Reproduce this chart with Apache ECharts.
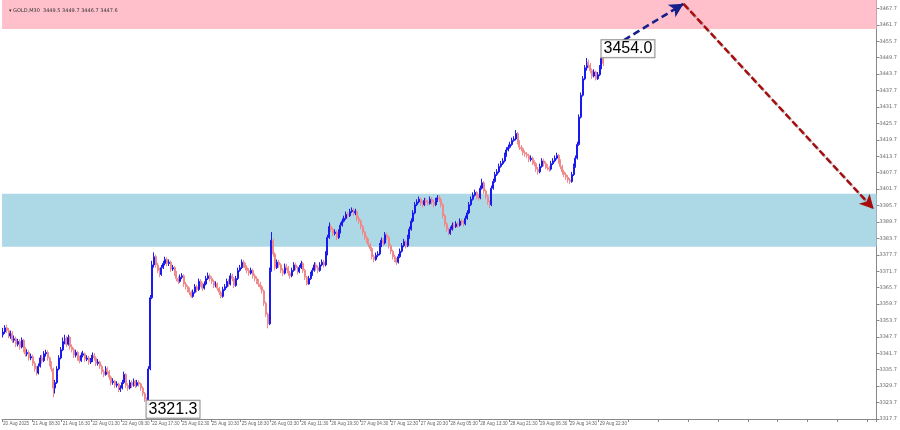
<!DOCTYPE html>
<html><head><meta charset="utf-8">
<script src="https://cdn.jsdelivr.net/npm/echarts@6/dist/echarts.min.js"></script>
<style>html,body{margin:0;padding:0;background:#fff}#c{width:900px;height:430px}</style>
</head><body><div id="c"></div>
<script>
// x-axis tick labels, one every 16 half-hour bars
const tickLabels = ['20 Aug 2025','21 Aug 08:30','21 Aug 16:30','22 Aug 01:30','22 Aug 09:30','22 Aug 17:30','25 Aug 02:30','25 Aug 10:30','25 Aug 18:30','26 Aug 03:30','26 Aug 11:30','26 Aug 19:30','27 Aug 04:30','27 Aug 12:30','27 Aug 20:30','28 Aug 05:30','28 Aug 13:30','28 Aug 21:30','29 Aug 06:30','29 Aug 14:30','29 Aug 22:30'];
// price-scale tick labels
const yTicks = [3317.7,3323.7,3329.7,3335.7,3341.7,3347.7,3353.7,3359.7,3365.7,3371.7,3377.7,3383.7,3389.7,3395.7,3401.7,3407.7,3413.7,3419.7,3425.7,3431.7,3437.7,3443.7,3449.7,3455.7,3461.7,3467.7];
const totalSlots = 469;
// candles: [open, close, low, high]
const candles = [
[3348.5,3349.5,3347.5,3351],[3349.5,3351,3348.8,3352],[3351,3350,3349,3352.2],[3350,3348,3347.2,3351],[3348,3349,3347,3350],
[3349,3346.5,3345.5,3349.8],[3346.5,3347,3345.6,3348.2],[3347,3345,3344,3347.8],[3345,3346,3344.2,3347],[3346,3344,3343,3346.8],
[3344,3346.5,3343.5,3347.5],[3346.5,3343,3342,3347],[3343,3341.5,3340.5,3344],[3341.5,3342,3340.6,3343.2],[3342,3340,3339,3342.8],
[3340,3340.5,3339.2,3341.6],[3340.5,3338,3337,3341.2],[3338,3336,3335,3338.8],[3336,3334.5,3333.6,3337],[3334.5,3337,3334,3338],
[3337,3340,3336.5,3341],[3340,3339,3338,3341.2],[3339,3341.5,3338.5,3342.5],[3341.5,3342,3340.5,3343],[3342,3340,3339,3342.8],
[3340,3338,3337,3340.5],[3338,3336,3335,3338.8],[3336,3329,3325.6,3336.5],[3329,3331,3327,3332],[3331,3336,3330.5,3337],
[3336,3340,3335.5,3341],[3340,3343,3339.5,3344],[3343,3346,3342.5,3347.5],[3346,3347,3345,3348.5],[3347,3345,3344,3348],
[3345,3347.5,3344.5,3348.5],[3347.5,3344,3343,3348],[3344,3343,3342,3345],[3343,3341,3340,3343.8],[3341,3342,3340.2,3343],
[3342,3340,3339,3342.6],[3340,3339,3338,3340.8],[3339,3341,3338.5,3342],[3341,3341.5,3340.2,3342.6],[3341.5,3339.5,3338.6,3342],
[3339.5,3340,3338.8,3341],[3340,3338.5,3337.5,3340.8],[3338.5,3339,3337.8,3340],[3339,3341,3338.5,3342],[3341,3340,3339,3341.8],
[3340,3338,3337,3340.6],[3338,3338.5,3337.2,3339.6],[3338.5,3337,3336,3339],[3337,3335,3334,3337.6],[3335,3334,3333,3335.8],
[3334,3336,3333.5,3337],[3336,3335,3334,3336.8],[3335,3333,3332,3335.6],[3333,3331,3330,3333.6],[3331,3331.5,3330.2,3332.6],
[3331.5,3330,3329,3332],[3330,3330.5,3329.2,3331.5],[3330.5,3328.5,3327.5,3331],[3328.5,3329,3327.6,3330],[3329,3331,3328.5,3332],
[3331,3334,3330.5,3335],[3334,3330,3329,3334.5],[3330,3329,3328,3330.8],[3329,3331,3328.5,3332],[3331,3330,3329,3331.8],
[3330,3331.5,3329.5,3332.5],[3331.5,3330,3329,3332],[3330,3331,3329.5,3332],[3331,3330.5,3329.5,3331.8],[3330.5,3329,3328,3331],
[3329,3327,3326,3329.6],[3327,3325,3324,3327.6],[3325,3322.5,3321.3,3325.6],[3322.5,3336,3322,3337],[3336,3362,3335.5,3363],
[3362,3374,3361.5,3375.5],[3374,3377,3373,3378.6],[3377,3374,3373,3377.8],[3374,3372,3371,3374.8],[3372,3370.5,3369.5,3373],
[3370.5,3373,3370,3374],[3373,3374.5,3372.5,3375.5],[3374.5,3376,3373.8,3377],[3376,3374.5,3373.5,3376.8],[3374.5,3375,3373.6,3376],
[3375,3372.5,3371.5,3375.6],[3372.5,3373,3371.8,3374],[3373,3371,3370,3373.6],[3371,3369,3368,3371.8],[3369,3368,3367,3369.8],
[3368,3369.5,3367.5,3370.5],[3369.5,3370,3368.8,3371],[3370,3367,3366,3370.6],[3367,3366,3365,3367.8],[3366,3365,3364,3366.6],
[3365,3364,3363,3365.8],[3364,3362.5,3362,3364.6],[3362.5,3364,3362,3365],[3364,3366,3363.5,3367],[3366,3365,3364,3366.8],
[3365,3368,3364.5,3369],[3368,3367,3366,3368.8],[3367,3365.5,3364.5,3367.6],[3365.5,3367,3365,3368],[3367,3369,3366.5,3370],
[3369,3370,3368.5,3371.2],[3370,3369,3368,3370.8],[3369,3368,3367,3369.8],[3368,3366.5,3365.5,3368.6],[3366.5,3367,3365.8,3368],
[3367,3365.5,3364.5,3367.6],[3365.5,3364,3363,3366],[3364,3362.5,3361.8,3364.6],[3362.5,3365,3362,3366],[3365,3366,3364.5,3367],
[3366,3368,3365.5,3369],[3368,3367,3366,3368.8],[3367,3370,3366.5,3371],[3370,3369,3368,3370.8],[3369,3366.5,3365.5,3369.6],
[3366.5,3369,3366,3370],[3369,3372,3368.5,3373],[3372,3373,3371.5,3374],[3373,3375,3372.5,3376],[3375,3374,3373,3375.8],
[3374,3373,3372,3374.8],[3373,3372,3371,3373.8],[3372,3371,3370,3372.8],[3371,3372,3370.5,3373],[3372,3370,3369,3372.6],
[3370,3369,3368,3370.8],[3369,3368,3367,3369.8],[3368,3367,3366,3368.8],[3367,3366,3365,3367.8],[3366,3364.5,3363.5,3366.6],
[3364.5,3360,3359,3365],[3360,3356,3355,3360.6],[3356,3352.5,3350.8,3356.6],[3352.5,3372,3352,3373],[3372,3383,3371.5,3386],
[3383,3378,3377,3383.6],[3378,3373,3372,3378.6],[3373,3375,3372.5,3376],[3375,3374,3373,3375.8],[3374,3372,3371,3374.6],
[3372,3371,3370,3372.8],[3371,3373.5,3370.5,3374.5],[3373.5,3373,3372,3374.4],[3373,3371,3370,3373.6],[3371,3370,3369,3371.8],
[3370,3372,3369.5,3373],[3372,3374,3371.5,3375],[3374,3373,3372,3374.8],[3373,3371.5,3370.5,3373.6],[3371.5,3373,3371,3374],
[3373,3374.5,3372.5,3375.5],[3374.5,3372,3371,3375],[3372,3369.5,3368.5,3372.6],[3369.5,3367,3366.5,3370],[3367,3369,3366.8,3370],
[3369,3370.5,3368.5,3371.5],[3370.5,3372,3370,3373],[3372,3374,3371.5,3375],[3374,3373,3372,3374.8],[3373,3372,3371,3373.8],
[3372,3374,3371.5,3375],[3374,3375,3373.5,3376],[3375,3374,3373,3375.8],[3374,3378,3373.5,3379],[3378,3384,3377.5,3385],
[3384,3388,3383.5,3389.5],[3388,3387,3386,3388.8],[3387,3385.5,3384.5,3387.6],[3385.5,3386,3384.8,3387],[3386,3384,3383,3386.6],
[3384,3386,3383.5,3387],[3386,3388.5,3385.5,3389.5],[3388.5,3390,3388,3391],[3390,3391,3389.5,3392],[3391,3392.5,3390.5,3393.5],
[3392.5,3392,3391,3393.4],[3392,3393.5,3391.5,3394.5],[3393.5,3394,3393,3395],[3394,3393,3392,3394.8],[3393,3393.5,3392.2,3394.5],
[3393.5,3391,3390,3394],[3391,3390,3389,3391.8],[3390,3388,3387,3390.6],[3388,3386,3385,3388.6],[3386,3384,3383,3386.6],
[3384,3383,3382,3384.8],[3383,3381.5,3380.5,3383.6],[3381.5,3380,3379,3382],[3380,3377,3376,3380.6],[3377,3376,3375,3377.8],
[3376,3377.5,3375.5,3378.5],[3377.5,3378,3376.8,3379],[3378,3381,3377.5,3382],[3381,3383,3380.5,3384],[3383,3382,3381,3383.8],
[3382,3385,3381.5,3386],[3385,3384,3383,3385.8],[3384,3381,3380,3384.6],[3381,3379,3378,3381.6],[3379,3377,3376,3379.6],
[3377,3376,3375,3377.8],[3376,3375,3374,3376.6],[3375,3377,3374.5,3378],[3377,3379,3376.5,3380],[3379,3381,3378.5,3382],
[3381,3382.5,3380.5,3383.5],[3382.5,3381,3380,3383],[3381,3384,3380.5,3385],[3384,3387,3383.5,3388],[3387,3390,3386.5,3391],
[3390,3393,3389.5,3394],[3393,3396,3392.5,3397],[3396,3397,3395.5,3398],[3397,3398,3396.5,3399],[3398,3396.5,3395.5,3398.6],
[3396.5,3396,3395,3397.4],[3396,3397.5,3395.5,3398.5],[3397.5,3397,3396,3398.4],[3397,3396.5,3395.5,3397.8],[3396.5,3398,3396,3399],
[3398,3397,3396,3398.8],[3397,3396,3395,3397.8],[3396,3397.5,3395.5,3398.5],[3397.5,3398.5,3397,3399.5],[3398.5,3398,3397,3399.4],
[3398,3396,3395,3398.6],[3396,3392,3391,3396.6],[3392,3389,3388,3392.6],[3389,3387,3386,3389.6],[3387,3385.5,3384.8,3387.6],
[3385.5,3387,3385,3388],[3387,3388.5,3386.5,3389.5],[3388.5,3388,3387,3389.4],[3388,3389,3387.5,3390],[3389,3388.5,3387.5,3389.8],
[3388.5,3390,3388,3391],[3390,3389.5,3388.5,3390.8],[3389.5,3389,3388,3390.4],[3389,3391,3388.5,3392],[3391,3393,3390.5,3394],
[3393,3396,3392.5,3397],[3396,3398,3395.5,3399],[3398,3399.5,3397.5,3400.5],[3399.5,3400.5,3399,3401.5],[3400.5,3399,3398,3401],
[3399,3398.5,3397.5,3399.8],[3398.5,3402,3398,3403],[3402,3404,3401.5,3405.5],[3404,3401,3400,3404.6],[3401,3399,3398,3401.6],
[3399,3397,3396,3399.6],[3397,3396,3394.8,3397.6],[3396,3402,3395.5,3403],[3402,3404.5,3401.5,3405.5],[3404.5,3407,3404,3408],
[3407,3408,3406.5,3409],[3408,3410,3407.5,3411],[3410,3411,3409.5,3412],[3411,3412,3410.5,3413],[3412,3414,3411.5,3415],
[3414,3416,3413.5,3417],[3416,3417,3415.5,3418],[3417,3418,3416.5,3419],[3418,3419.5,3417.5,3420.5],[3419.5,3420,3419,3421],
[3420,3422,3419.5,3423.3],[3422,3419,3418,3422.6],[3419,3417,3416,3419.6],[3417,3416.5,3415.5,3417.8],[3416.5,3415,3414,3417],
[3415,3414.5,3413.5,3415.8],[3414.5,3414,3413,3415.2],[3414,3412.5,3411.5,3414.6],[3412.5,3413,3411.8,3414],[3413,3411.5,3410.5,3413.6],
[3411.5,3411,3410,3412.2],[3411,3409,3408,3411.6],[3409,3408,3407,3409.8],[3408,3410,3407.5,3411],[3410,3412,3409.5,3413],
[3412,3411,3410,3412.8],[3411,3410,3409,3411.8],[3410,3409.5,3408.5,3410.8],[3409.5,3409,3408,3410.2],[3409,3411,3408.5,3412],
[3411,3412,3410.5,3413],[3412,3413,3411.5,3414],[3413,3414,3412.5,3415],[3414,3412,3411,3414.6],[3412,3410,3409,3412.6],
[3410,3408,3407,3410.6],[3408,3407,3406,3408.8],[3407,3406,3405,3407.8],[3406,3405,3404,3406.8],[3405,3404.5,3403.5,3405.8],
[3404.5,3407,3404,3408],[3407,3410,3406.5,3411],[3410,3413,3409.5,3414],[3413,3418,3412.5,3419],[3418,3428,3417.5,3429],
[3428,3436,3427.5,3437],[3436,3442,3435.5,3443],[3442,3446,3441.5,3447],[3446,3448,3445,3449.6],[3448,3447,3446,3449],
[3447,3445,3444,3447.8],[3445,3443,3442,3445.8],[3443,3444.5,3442.5,3445.5],[3444.5,3442,3441.4,3445],[3442,3443.5,3441.6,3444.5],
[3443.5,3446,3443,3447],[3446,3449.5,3445.5,3454.0],[3449.5,3447.6,3446.7,3449.7]
];
// horizontal zones [low, high]
const resistanceZone = [3460.2, 3470.8];
const supportZone = [3380.6, 3400.0];
// forecast arrows: [[barIndex, price], [barIndex, price]]
const arrowUp = [[323, 3452.0], [365, 3469.4]];
const arrowDown = [[365, 3469.4], [467, 3394.4]];
// price tags: [barIndex, price, text]
const tagHigh = [321, 3453.0, '3454.0'];
const tagLow = [77, 3321.3, '3321.3'];
const lastPrice = 3447.6;
const headerText = '\u25BE GOLD,M30  3449.5 3449.7 3446.7 3447.6';

const categories = Array.from({length: totalSlots}, (_, i) => String(i));
const chart = echarts.init(document.getElementById('c'), null, {renderer: 'canvas'});
const tagLabel = {
  show: true, position: 'right', distance: 0,
  color: '#000', fontSize: 16, fontFamily: 'Liberation Sans',
  backgroundColor: 'rgba(255,255,255,0.9)', borderColor: '#8a8a8a', borderWidth: 1,
  padding: [1, 2, 0, 2]
};
const bull = '#1a1aee', bear = '#f08a8a';
chart.setOption({
  animation: false,
  backgroundColor: '#fff',
  title: {text: headerText, left: 4, top: 3, textStyle: {fontSize: 5, fontWeight: 'normal', color: '#333', fontFamily: 'DejaVu Sans'}},
  grid: {left: 0, right: 20, top: 0, bottom: 11},
  xAxis: {
    type: 'category', data: categories, boundaryGap: true,
    axisLine: {lineStyle: {color: '#888', width: 1}},
    axisTick: {show: true, interval: 15, length: 3, lineStyle: {color: '#888'}},
    axisLabel: {interval: 15, showMinLabel: true, hideOverlap: false, margin: 2, fontSize: 4.6, color: '#666', align: 'left', fontFamily: 'Liberation Sans',
      formatter: (v, i) => (Number(v) % 16 === 0 && tickLabels[Number(v) / 16]) ? tickLabels[Number(v) / 16] : ''},
    splitLine: {show: false}
  },
  yAxis: {
    type: 'value', position: 'right', min: 3317.7, max: 3470.8, scale: true,
    axisLine: {show: true, lineStyle: {color: '#888', width: 1}},
    axisTick: {show: true, length: 3, customValues: yTicks, lineStyle: {color: '#888'}},
    axisLabel: {customValues: yTicks, fontSize: 5, color: '#666', margin: 3, fontFamily: 'DejaVu Sans', formatter: v => v.toFixed(1)},
    splitLine: {show: false}
  },
  series: [
    {
      type: 'line', data: [], z: 1, silent: true,
      markArea: {silent: true, data: [
        [{yAxis: resistanceZone[0], itemStyle: {color: '#ffc0cb'}}, {yAxis: resistanceZone[1]}],
        [{yAxis: supportZone[0], itemStyle: {color: '#add8e6'}}, {yAxis: supportZone[1]}]
      ]}
    },
    {
      type: 'candlestick', data: candles, z: 3, barWidth: 1.5, large: false, progressive: 0,
      itemStyle: {color: bull, color0: bear, borderColor: bull, borderColor0: bear, borderColorDoji: bear, borderWidth: 1},
      markPoint: {
        symbol: 'circle', symbolSize: 0, silent: true,
        data: [
          {coord: [tagHigh[0], tagHigh[1]], value: tagHigh[2], label: Object.assign({}, tagLabel, {formatter: tagHigh[2]})},
          {coord: [tagLow[0], tagLow[1]], value: tagLow[2], label: Object.assign({}, tagLabel, {formatter: tagLow[2]})}
        ]
      },
      markLine: {
        silent: true, symbol: ['none', 'none'],
        data: [{yAxis: lastPrice, lineStyle: {opacity: 0},
          label: {show: true, position: 'end', distance: 0, formatter: lastPrice.toFixed(1), color: '#fff', fontSize: 5,
            backgroundColor: '#555', padding: [2, 2], fontFamily: 'DejaVu Sans'}}]
      }
    },
    {
      type: 'line', data: [], z: 5, silent: true,
      markLine: {
        silent: true, symbol: ['none', 'arrow'], symbolSize: [11, 14],
        label: {show: false},
        data: [
          [{coord: arrowUp[0], lineStyle: {color: '#15208a', width: 2.6, type: [7, 4]}}, {coord: arrowUp[1]}],
          [{coord: arrowDown[0], lineStyle: {color: '#a80c0c', width: 2.4, type: [7, 3], shadowColor: 'rgba(0,0,0,0.35)', shadowBlur: 1, shadowOffsetX: 1, shadowOffsetY: 1}}, {coord: arrowDown[1]}]
        ]
      }
    }
  ]
});
</script></body></html>
